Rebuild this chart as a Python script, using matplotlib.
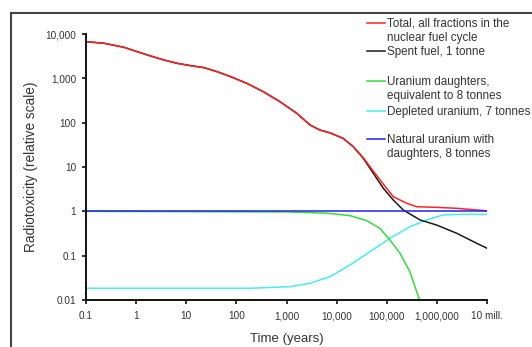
import matplotlib
matplotlib.use("Agg")
import matplotlib.pyplot as plt
from matplotlib.lines import Line2D

plt.rcParams['font.family'] = ['Liberation Sans', 'DejaVu Sans']

# --- data (time in years, relative radiotoxicity) ---
spent_t = [0.1, 0.229, 0.573, 1.05, 1.95, 3.6, 6.6, 12.3, 22.6, 41.6, 77,
           161, 344, 741, 1600, 2940, 4660, 7380, 13600, 21500, 34000,
           54000, 85300, 135000, 214000, 460000, 993000, 2.49e6, 6.24e6, 1e7]
spent_v = [6710, 6180, 5010, 3990, 3190, 2590, 2180, 1930, 1740, 1410, 1090,
           773, 500, 297, 163, 89, 68, 59, 44, 28.7, 15.7,
           7.2, 3.31, 1.80, 1.07, 0.64, 0.49, 0.32, 0.19, 0.147]

total_t = [0.1, 0.229, 0.573, 1.05, 1.95, 3.6, 6.6, 12.3, 22.6, 41.6, 77,
           161, 344, 741, 1600, 2940, 4660, 7380, 13600, 21500, 34000,
           54000, 85300, 135000, 250000, 396000, 993000, 2.49e6, 6.24e6, 1e7]
total_v = [6710, 6180, 5010, 3990, 3190, 2590, 2180, 1930, 1740, 1410, 1090,
           773, 500, 297, 163, 89, 68, 59, 44, 28.8, 16.2,
           8.1, 4.1, 2.14, 1.52, 1.27, 1.23, 1.17, 1.07, 1.03]

udaught_t = [0.1, 1000, 6340, 18500, 39800, 73300, 116000, 184000, 291000,
             396000, 460000]
udaught_v = [1.0, 0.97, 0.91, 0.80, 0.62, 0.41, 0.225, 0.113, 0.043,
             0.0154, 0.0095]

depl_t = [0.1, 187, 1175, 2940, 7380, 18500, 46300, 116000, 291000, 627000,
          1.34e6, 3.37e6, 1e7]
depl_v = [0.0184, 0.0184, 0.020, 0.0238, 0.0336, 0.0617, 0.123, 0.247, 0.45,
          0.64, 0.83, 0.857, 0.857]

natu_t = [0.1, 1e7]
natu_v = [1.0, 1.0]

xticks = [0.1, 1, 10, 100, 1e3, 1e4, 1e5, 1e6, 1e7]
xlabels = ['0.1', '1', '10', '100', '1,000', '10,000', '100,000',
           '1,000,000', '10 mill.']
yticks = [0.01, 0.1, 1, 10, 100, 1000, 10000]
ylabels = ['0.01', '0.1', '1', '10', '100', '1,000', '10,000']

series = [
    ('Total, all fractions in the\nnuclear fuel cycle', '#ff2222', total_t, total_v),
    ('Spent fuel, 1 tonne', '#1a1a1a', spent_t, spent_v),
    ('Uranium daughters,\nequivalent to 8 tonnes', '#33dd33', udaught_t, udaught_v),
    ('Depleted uranium, 7 tonnes', '#44eeee', depl_t, depl_v),
    ('Natural uranium with\ndaughters, 8 tonnes', '#2222ee', natu_t, natu_v),
]

W, H = 532, 347
fig = plt.figure(figsize=(W / 100, H / 100), dpi=100)


def fx(x):
    return x / W


def fy(y):
    return 1 - y / H


ax = fig.add_axes([fx(86), fy(300), fx(487) - fx(86), fy(34) - fy(300)])

# draw order: cyan, green, black, red, blue on top
for i in [3, 2, 1, 0, 4]:
    label, color, t, v = series[i]
    ax.plot(t, v, color=color, lw=1.1, solid_joinstyle='round', clip_on=True)

ax.set_xscale('log')
ax.set_yscale('log')
ax.set_xlim(0.1, 1e7)
ax.set_ylim(0.01, 10000)
ax.set_xticks(xticks)
ax.set_xticklabels(xlabels)
ax.set_yticks(yticks)
ax.set_yticklabels(ylabels)
ax.minorticks_off()
ax.tick_params(axis='both', direction='out', length=3, width=1.2,
               labelsize=7.2, colors='#111111', labelcolor='#333333')
ax.tick_params(axis='x', pad=5)
ax.tick_params(axis='y', pad=4)
for s in ['top', 'right']:
    ax.spines[s].set_visible(False)
for s in ['left', 'bottom']:
    ax.spines[s].set_linewidth(1.4)
    ax.spines[s].set_color('#111111')

ax.set_xlabel('Time (years)', fontsize=9.5, color='#333333', va='center')
ax.set_ylabel('Radiotoxicity (relative scale)', fontsize=9.8, color='#333333',
              va='center')
ax.xaxis.set_label_coords(0.5, -(339 - 300) / 266)
ax.yaxis.set_label_coords(-(86 - 31) / 401, 0.5)

# legend drawn by hand, as in the reference
leg_y = [23, 51, 81, 111, 139]
for (label, color, t, v), y in zip(series, leg_y):
    fig.add_artist(Line2D([fx(367), fx(385)], [fy(y), fy(y)], color=color, lw=1.1))
    fig.text(fx(387), fy(y - 5), label, fontsize=8.4, color='#333333',
             va='top', ha='left', linespacing=1.2)

# outer frame (left and top edges visible)
fig.add_artist(Line2D([fx(11), fx(11)], [fy(13), 0], color='#444444', lw=1.5))
fig.add_artist(Line2D([fx(11), 1], [fy(13), fy(13)], color='#444444', lw=1.5))

fig.savefig('out.png', dpi=100)
